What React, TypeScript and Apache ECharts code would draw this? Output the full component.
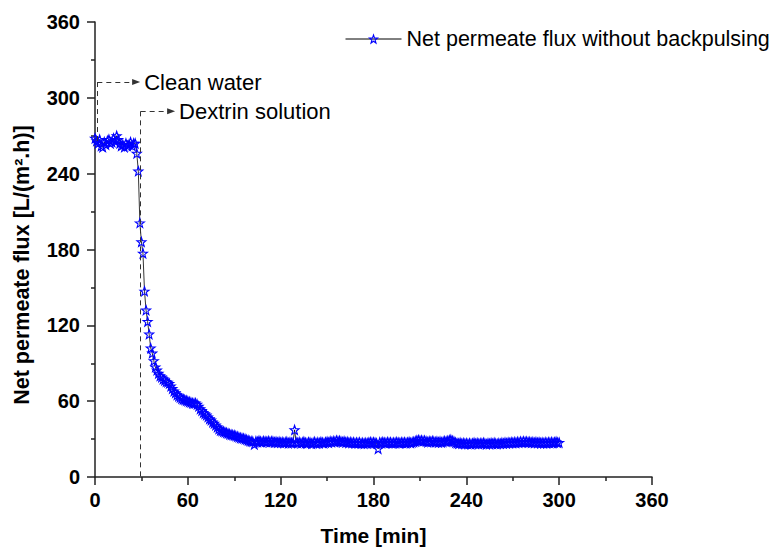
import React, { useEffect, useRef } from "react";
import * as echarts from "echarts";

const SERIES_NAME = "Net permeate flux without backpulsing";
const X_TITLE = "Time [min]";
const Y_TITLE = "Net permeate flux [L/(m\u00b2.h)]";
const X_TICKS = [0, 60, 120, 180, 240, 300, 360];
const Y_TICKS = [0, 60, 120, 180, 240, 300, 360];
const SAMPLE_STEP_MIN = 1;

// Net permeate flux, one reading per minute (t = 0 ... 300 min)
const fluxClean = [
  268, 266, 264, 267, 262, 261, 265, 263, 266, 267,
  264, 265, 268, 266, 270, 267, 264, 262, 263, 261,
  264, 262, 263, 265, 262, 264, 264,
];
const fluxDrop = [
  256, 242, 201,
  186, 177, 147, 132, 123, 113, 102, 98, 92, 87,
  84.5, 82, 80, 79, 77.5, 76.5, 75.5, 75, 74, 72,
  70, 68, 66.5, 65, 64, 63, 62, 61.5, 61, 60.5,
  60, 59.5, 59, 58.5, 58.3, 58.5, 57.5, 56, 54, 52.5,
  51, 50, 49, 47.5, 46, 45, 43.5, 42.5, 41, 39.5,
  38, 37, 36.5, 36, 35.5, 35, 34.5, 34, 33.5, 33.3,
  33, 32.5, 32, 31.5, 31, 30.7, 30.5, 30, 29.5, 29,
];
const fluxSteady = [
  28.5, 28.2, 28.0, 25.8, 28.3, 27.8, 28.6, 28.1, 27.6, 28.4,
  28.0, 27.9, 28.5, 27.7, 28.2, 28.1, 27.5, 27.9, 27.3, 27.8,
  27.2, 27.6, 27.0, 27.4, 27.8, 26.9, 27.5, 27.1, 27.3, 37.3,
  27.4, 27.0, 27.6, 26.8, 27.3, 27.9, 27.1, 26.7, 27.5, 27.2,
  26.5, 27.0, 27.8, 26.6, 27.4, 26.9, 27.7, 27.2, 26.8, 27.5,
  27.9, 27.3, 28.2, 27.6, 28.4, 27.8, 28.9, 28.3, 28.7, 28.0,
  27.6, 28.2, 27.4, 27.9, 27.1, 27.6, 27.0, 27.5, 26.8, 27.3,
  26.9, 27.4, 26.6, 27.1, 26.5, 27.0, 26.7, 27.2, 27.6, 27.0,
  27.5, 27.1, 26.8, 22.3, 27.4, 27.0, 27.7, 27.2, 26.9, 27.6,
  27.1, 27.5, 26.8, 27.3, 27.0, 27.6, 27.2, 26.9, 27.4, 27.1,
  27.5, 26.9, 27.3, 27.7, 27.0, 27.4, 27.8, 28.3, 28.9, 29.3,
  28.7, 29.0, 28.4, 28.8, 28.2, 27.7, 28.3, 27.9, 28.5, 28.0,
  27.6, 28.1, 27.5, 28.0, 27.4, 27.9, 28.4, 28.0, 28.6, 29.1,
  29.4, 28.6, 28.1, 27.2, 26.8, 26.5, 27.0, 26.4, 26.9, 26.3,
  26.8, 26.2, 26.7, 26.1, 26.6, 27.0, 26.4, 26.9, 26.3, 26.8,
  26.5, 27.1, 26.6, 26.0, 26.7, 26.3, 26.9, 26.4, 27.0, 26.5,
  26.2, 26.8, 26.4, 27.0, 26.6, 27.2, 26.7, 27.3, 26.9, 27.5,
  27.0, 27.6, 27.1, 27.8, 27.3, 28.0, 27.5, 28.2, 27.7, 28.1,
  27.4, 27.9, 27.2, 27.7, 27.0, 27.6, 27.1, 27.5, 26.9, 27.3,
  26.8, 27.4, 26.9, 27.5, 27.0, 27.6, 27.1, 27.4, 27.8, 27.3,
  27.3,
];

// Annotation anchors (data units)
const cleanWater = { label: "Clean water", x: 1.5, yTop: 312.5, yBottom: 266, xArrow: 26.6 };
const dextrin = { label: "Dextrin solution", x: 29.5, yTop: 289.3, yBottom: 0, xArrow: 49.2 };

const STAR =
  "path://M0,-10 L2.35,-3.24 L9.51,-3.09 L3.8,1.24 L5.88,8.09 L0,4 L-5.88,8.09 L-3.8,1.24 L-9.51,-3.09 L-2.35,-3.24 Z";
const FONT = "'Liberation Sans', Arial, Helvetica, sans-serif";

export default function App() {
  const ref = useRef<HTMLDivElement>(null);

  useEffect(() => {
    if (!ref.current) return;
    const chart = echarts.init(ref.current, undefined, { renderer: "svg" });
    const values = [...fluxClean, ...fluxDrop, ...fluxSteady];
    const data = values.map((v, i) => [i * SAMPLE_STEP_MIN, v]);

    const axisColor = "#222";
    const axisCommon = {
      type: "value" as const,
      axisLine: { show: true, onZero: false, lineStyle: { color: axisColor, width: 1.5 } },
      axisTick: { show: true, inside: false, length: 8, lineStyle: { color: axisColor, width: 1.5 } },
      minorTick: { show: true, splitNumber: 2, length: 4, lineStyle: { color: axisColor, width: 1.5 } },
      splitLine: { show: false },
      minorSplitLine: { show: false },
      axisLabel: { fontSize: 20, fontWeight: "bold" as const, color: "#000", fontFamily: FONT },
    };

    const dashed = { type: [5, 4], color: "#333", width: 1 };
    const arrowLabel = (text: string) => ({
      show: true,
      position: "end",
      distance: 8,
      formatter: text,
      fontSize: 22,
      color: "#000",
      fontFamily: FONT,
    });
    const hollowStar = { color: "rgba(255,255,255,0)", borderColor: "#0000ff", borderWidth: 1.1 };

    chart.setOption({
      animation: false,
      backgroundColor: "#fff",
      grid: { left: 95, right: 128, top: 22, bottom: 72, containLabel: false },
      legend: {
        data: [SERIES_NAME],
        left: 345,
        top: 28,
        padding: 0,
        itemWidth: 56,
        itemHeight: 10,
        itemGap: 7,
        itemStyle: hollowStar,
        lineStyle: { color: "#000", width: 1 },
        textStyle: { fontSize: 21.5, color: "#000", fontFamily: FONT },
      },
      xAxis: {
        ...axisCommon,
        min: X_TICKS[0],
        max: X_TICKS[X_TICKS.length - 1],
        interval: X_TICKS[1] - X_TICKS[0],
        axisLabel: { ...axisCommon.axisLabel, margin: 13 },
        name: X_TITLE,
        nameLocation: "middle",
        nameGap: 48,
        nameTextStyle: { fontSize: 21, fontWeight: "bold", color: "#000", fontFamily: FONT },
      },
      yAxis: {
        ...axisCommon,
        min: Y_TICKS[0],
        max: Y_TICKS[Y_TICKS.length - 1],
        interval: Y_TICKS[1] - Y_TICKS[0],
        axisLabel: { ...axisCommon.axisLabel, margin: 15 },
      },
      graphic: [
        {
          type: "text",
          x: 22,
          y: 265,
          rotation: Math.PI / 2,
          style: {
            text: Y_TITLE,
            fontSize: 21.5,
            fontWeight: "bold",
            fill: "#000",
            fontFamily: FONT,
            align: "center",
            verticalAlign: "middle",
          },
        },
      ],
      series: [
        {
          name: SERIES_NAME,
          type: "line",
          data,
          symbol: STAR,
          symbolSize: 9,
          showSymbol: true,
          showAllSymbol: true,
          lineStyle: { color: "#000", width: 0.8 },
          itemStyle: hollowStar,
          emphasis: { disabled: true },
          markLine: {
            silent: true,
            animation: false,
            symbol: ["none", "none"],
            symbolSize: 8,
            lineStyle: dashed,
            label: { show: false },
            emphasis: { disabled: true },
            data: [
              [
                { coord: [cleanWater.x, cleanWater.yTop] },
                { coord: [cleanWater.x, cleanWater.yBottom] },
              ],
              [
                { coord: [cleanWater.x, cleanWater.yTop] },
                {
                  coord: [cleanWater.xArrow, cleanWater.yTop],
                  symbol: "triangle",
                  symbolSize: [6, 8],
                  label: arrowLabel(cleanWater.label),
                },
              ],
              [
                { coord: [dextrin.x, dextrin.yTop] },
                { coord: [dextrin.x, dextrin.yBottom] },
              ],
              [
                { coord: [dextrin.x, dextrin.yTop] },
                {
                  coord: [dextrin.xArrow, dextrin.yTop],
                  symbol: "triangle",
                  symbolSize: [6, 8],
                  label: arrowLabel(dextrin.label),
                },
              ],
            ],
          },
        },
      ],
    });

    return () => chart.dispose();
  }, []);

  return (
    <div
      ref={ref}
      style={{ position: "absolute", left: 0, top: 0, width: 780, height: 551 }}
    />
  );
}
